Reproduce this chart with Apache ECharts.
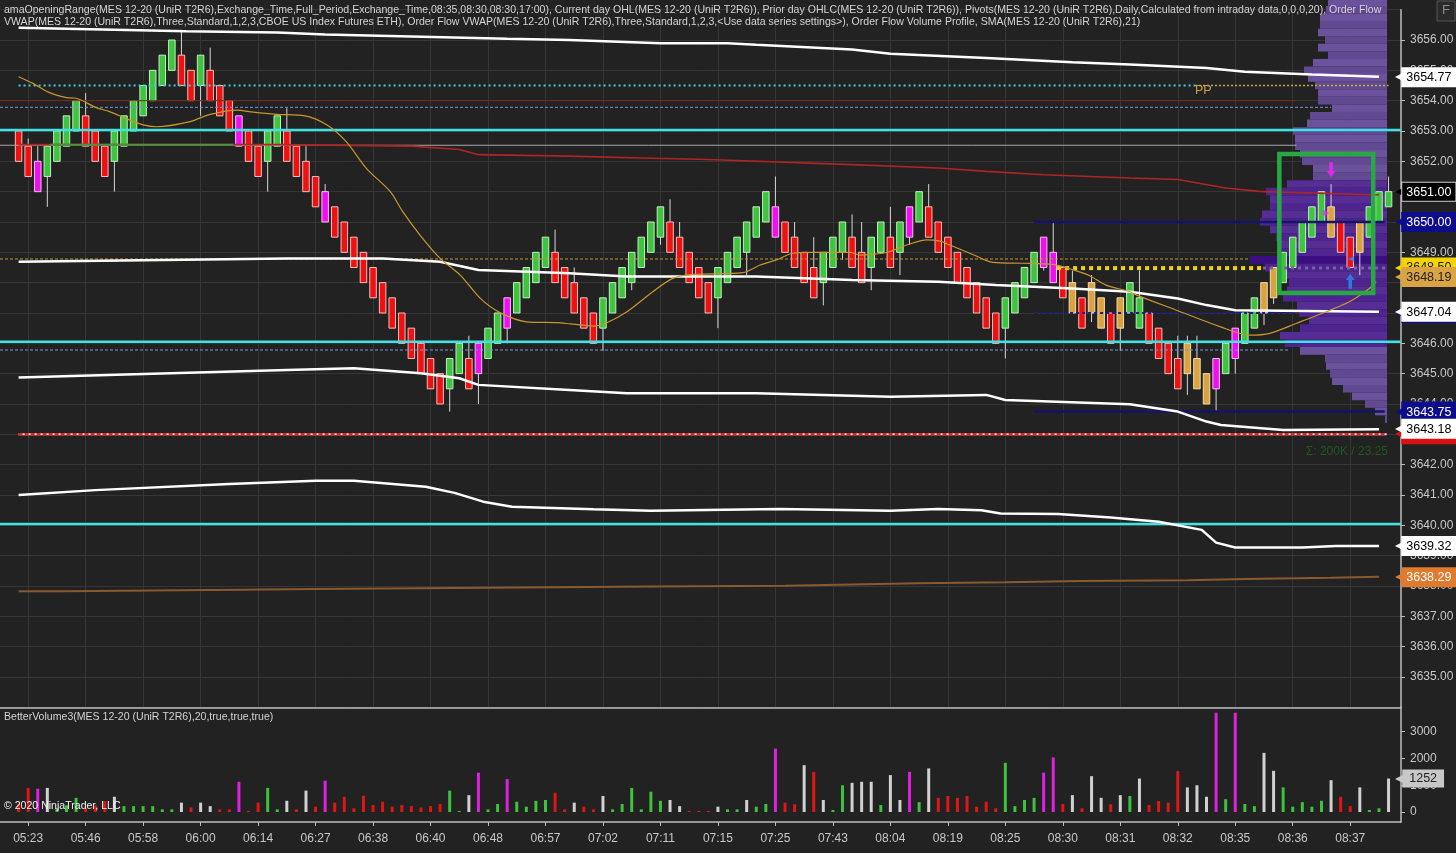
<!DOCTYPE html>
<html><head><meta charset="utf-8">
<script src="https://cdn.jsdelivr.net/npm/echarts@6/dist/echarts.min.js"></script>
<style>html,body{margin:0;padding:0;background:#222222;}#c{width:1456px;height:853px;}</style>
</head><body><div id="c"></div>
<script>
// ---------------- DATA ----------------
const timeLabels = ['05:23','05:46','05:58','06:00','06:14','06:27','06:38','06:40','06:48','06:57','07:02','07:11','07:15','07:25','07:43','08:04','08:19','08:25','08:30','08:31','08:32','08:35','08:36','08:37'];
const timeIdx = [1,7,13,19,25,31,37,43,49,55,61,67,73,79,85,91,97,103,109,115,121,127,133,139];

const opens = [3653,3652.5,3652,3651.5,3652,3652.5,3653,3653.5,3653,3652.5,
3652,3652.5,3653,3653.5,3654,3654.5,3655,3655.5,3655,3654.5,
3655,3654.5,3654,3653.5,3653,3652.5,3652,3652.5,3653,3652.5,
3652,3651.5,3651,3650.5,3650,3649.5,3649,3648.5,3648,3647.5,
3647,3646.5,3646,3645.5,3645,3644.5,3645,3645.5,3645,3645.5,
3646,3646.5,3647,3647.5,3648,3648.5,3649,3648.5,3648,3647.5,
3647,3646.5,3647,3647.5,3648,3648.5,3649,3649.5,3650,3649.5,
3649,3648.5,3648,3647.5,3648,3648.5,3649,3649.5,3650,3650.5,
3650,3649.5,3649,3648.5,3648,3648.5,3649,3649.5,3649,3648.5,
3649,3649.5,3649,3649.5,3650,3650.5,3650,3649.5,3649,3648.5,
3648,3647.5,3647,3646.5,3647,3647.5,3648,3648.5,3649,3648.5,
3648,3647.5,3647,3647.5,3647,3646.5,3647,3646.5,3647,3646.5,
3646,3645.5,3645,3645.5,3645,3644.5,3645,3645.5,3646,3646.5,
3647,3647.5,3648,3648.5,3649,3649.5,3650,3650.5,3650,3649.5,
3649,3649.5,3650,3650.5];
const closes = [3652,3651.5,3651,3652.5,3653,3653.5,3654,3652.5,3652,3651.5,
3653,3653.5,3654,3654.5,3655,3655.5,3656,3654.5,3654,3655.5,
3654,3653.5,3653,3652.5,3652,3651.5,3653,3653.5,3652,3651.5,
3651,3650.5,3650,3649.5,3649,3648.5,3648,3647.5,3647,3646.5,
3646,3645.5,3645,3644.5,3644,3645.5,3646,3644.5,3646,3646.5,
3647,3647.5,3648,3648.5,3649,3649.5,3648,3647.5,3647,3646.5,
3646,3647.5,3648,3648.5,3649,3649.5,3650,3650.5,3649,3648.5,
3648,3647.5,3647,3648.5,3649,3649.5,3650,3650.5,3651,3649.5,
3649,3648.5,3648,3647.5,3649,3649.5,3650,3648.5,3648,3649.5,
3650,3648.5,3650,3650.5,3651,3649.5,3649,3648.5,3648,3647.5,
3647,3646.5,3646,3647.5,3648,3648.5,3649,3649.5,3648,3647.5,
3647,3646.5,3648,3646.5,3646,3647.5,3648,3647.5,3646,3645.5,
3645,3644.5,3646,3644.5,3644,3645.5,3646,3646.5,3647,3647.5,
3648,3648.5,3649,3649.5,3650,3650.5,3651,3649.5,3649,3648.5,
3650,3650.5,3651,3651];
const lows = [3652,3651.5,3651,3650.5,3652,3652.5,3653,3652.5,3652,3651.5,
3651,3652.5,3653,3653.5,3654,3654.5,3655,3654.5,3654,3653.5,
3654,3653.5,3653,3652.5,3652,3651.5,3651,3652.5,3652,3651.5,
3651,3650.5,3650,3649.5,3649,3648.5,3648,3647.5,3647,3646.5,
3646,3645.5,3645,3644.5,3644,3643.75,3645,3644.5,3644,3645.5,
3646,3646,3647,3647.5,3648,3648.5,3648,3647.5,3647,3646.5,
3646,3645.75,3647,3647.5,3647.75,3648.5,3649,3649.25,3649,3648.5,
3648,3647.5,3647,3646.5,3648,3648.5,3648.25,3649.5,3650,3649.5,
3649,3648.5,3648,3647.5,3647.25,3648.5,3648.75,3648.5,3648,3647.75,
3649,3648.5,3648.25,3649.25,3650,3649.5,3649,3648.5,3648,3647.5,
3647,3646.5,3646,3645.5,3647,3647.5,3648,3648.4,3648,3647.5,
3647,3646.5,3646.7,3646.5,3646,3645.75,3647,3646.5,3646,3645.5,
3645,3644.5,3644.3,3644.5,3644,3643.75,3645,3645,3646,3646.5,
3646.6,3647.3,3648,3648.5,3649,3649.5,3650,3649.5,3649,3648.5,
3648.25,3649.5,3650,3650.5];
const highs = [3653,3652.75,3652.5,3652.5,3653,3653.5,3654,3654.25,3653,3652.5,
3653,3653.5,3654,3654.5,3655,3655.5,3656,3656.3,3655,3655.5,
3655.75,3654.5,3654,3653.5,3653,3652.5,3653,3653.5,3653.75,3652.5,
3652.5,3651.5,3651.25,3650.5,3650,3649.5,3649,3648.5,3648,3647.5,
3647,3646.5,3646,3645.5,3645,3645.5,3646,3646.25,3646,3646.5,
3647,3647.5,3648,3648.5,3649,3649.5,3649.75,3648.5,3648.5,3647.5,
3647,3647.5,3648,3648.5,3649,3649.5,3650,3650.5,3650.75,3650,
3649,3648.5,3648,3648.5,3649,3649.5,3650,3650.5,3651,3651.5,
3650,3650,3649,3649.5,3649,3649.5,3650,3650.25,3650,3649.5,
3650,3650.5,3650,3650.5,3651,3651.25,3650,3649.5,3649,3648.5,
3648,3647.5,3647,3647.5,3648,3648.5,3649,3649.5,3650,3648.5,
3648.4,3647.5,3648.25,3647.5,3647,3647.5,3648,3648.4,3647,3646.5,
3646,3646.25,3646.25,3646.25,3645,3645.5,3646,3646.5,3647,3647.5,
3648,3648.5,3649,3649.5,3650,3650.5,3651,3651.25,3650,3649.5,
3650,3650.5,3651,3651.5];
// g=up, r=down, m=high-volume climax, o=delta divergence
const candleClass = 'rrmggggrrr'+'gggggggrrg'+'rrrmrrggrr'+'rrmrrrrrrr'+'rrrrrggrmg'+'gmggggrrrr'+'rgggggggrr'+'rrrggggggm'+'rrrrgggrrg'+'grgmgrrrrr'+'rrrggggmmr'+'orooroggrr'+'rrooomgmgg'+'oogggggorr'+'oggg';

const volumes = [300,900,870,900,150,250,530,150,250,410,
570,220,220,220,220,100,100,350,170,350,
220,100,100,1130,40,350,900,100,420,100,
800,200,1170,350,570,140,610,260,385,200,
260,220,170,220,300,800,40,630,1470,100,
300,1230,385,200,420,450,720,100,350,200,
100,600,100,300,900,100,760,420,450,220,
40,40,40,200,100,100,450,200,300,2370,
350,290,1750,1500,450,75,1000,1090,1130,1130,
260,1380,450,1500,370,1630,530,600,530,600,
200,385,140,1840,220,450,530,1470,2040,300,
630,140,1340,530,290,630,600,1250,260,410,
350,1530,920,1000,570,3710,480,3710,300,220,
2210,1540,920,200,370,200,420,1190,570,220,
920,75,140,1252];
const volClass = 'rrmwgggrrr'+'wggggggwrw'+'wrrmrrggwr'+'wrmrrrrrrr'+'rrrrrggwmg'+'gmggggrrwr'+'rwggggggww'+'rrrwggwggm'+'rrwrwggwww'+'gwwmgwrrrr'+'rrrggggmmr'+'wrwwrwgwrr'+'rrwwwmgmgg'+'wwgggggwrr'+'wggw';

// indicator lines: [barIndex, price]
const vwapUpper3 = [[0,3656.40],[17.5,3656.29],[27,3656.25],[32,3656.18],[51,3656.04],[57.5,3656.0],[67,3655.89],[74,3655.89],[77,3655.84],[87,3655.69],[91,3655.55],[101,3655.41],[110,3655.27],[116,3655.19],[124,3655.08],[128,3654.95],[135,3654.86],[142,3654.79]];
const vwapMid = [[0,3648.69],[28,3648.80],[38,3648.80],[44,3648.69],[48,3648.42],[57.5,3648.31],[63.5,3648.20],[77,3648.20],[87,3648.09],[96,3648.03],[102,3647.92],[110,3647.81],[116,3647.70],[121,3647.48],[124,3647.26],[127,3647.09],[142,3647.04]];
const vwapLower1 = [[0,3644.87],[28,3645.12],[35,3645.18],[42,3645.01],[46,3644.85],[48,3644.63],[57.5,3644.46],[63.5,3644.35],[77,3644.35],[87,3644.27],[91,3644.24],[101,3644.30],[103,3644.13],[116,3643.99],[121,3643.75],[124,3643.42],[125.5,3643.31],[132,3643.14],[142,3643.17]];
const vwapLower2 = [[0,3641.00],[8,3641.16],[22,3641.36],[31,3641.47],[35,3641.47],[42.5,3641.27],[45.5,3641.07],[48.5,3640.78],[51.5,3640.61],[60,3640.53],[66,3640.48],[79.5,3640.54],[91,3640.48],[96,3640.54],[100.5,3640.50],[102.5,3640.39],[108.5,3640.37],[114,3640.26],[119,3640.12],[123.5,3639.85],[125,3639.43],[127,3639.27],[134,3639.27],[137.5,3639.32],[142,3639.32]];
const ofVwap = [[0,3652.55],[27,3652.55],[41,3652.50],[46,3652.39],[48,3652.22],[57.5,3652.17],[65,3652.11],[72,3652.06],[87,3651.89],[96,3651.78],[101,3651.67],[107,3651.56],[116,3651.45],[121,3651.40],[126,3651.12],[129.5,3651.01],[141,3650.90],[142,3650.90]];
const ofVwapRising = [[3.3,3652.55],[22.4,3652.55]];
const ofVwapLower = [[0,3637.83],[4.5,3637.83],[5,3637.87],[20,3637.87],[20.5,3637.90],[31,3637.94],[49,3637.98],[66,3638.01],[80,3638.05],[87,3638.09],[94,3638.12],[103,3638.16],[111,3638.19],[122,3638.23],[128,3638.27],[137,3638.30],[142,3638.29]];
const sma21 = [[0,3654.79],[1.5,3654.57],[3.1,3654.28],[5,3654.10],[6,3654.08],[8.1,3653.77],[9.5,3653.64],[11.3,3653.40],[13,3653.20],[14.4,3653.14],[17.9,3653.31],[20,3653.55],[22.8,3653.69],[24.5,3653.62],[26.9,3653.55],[29.9,3653.50],[32.2,3653.20],[34.2,3652.65],[36.3,3651.77],[38.8,3651.00],[40.1,3650.34],[41.9,3649.57],[44,3648.80],[46.1,3648.25],[48.2,3647.48],[50.2,3647.02],[53,3646.71],[56.2,3646.68],[57.6,3646.64],[60,3646.57],[61.4,3646.68],[63.5,3647.04],[66.2,3647.70],[68.3,3648.14],[70.4,3648.27],[75.6,3648.33],[77.4,3648.58],[79.1,3648.75],[80.8,3648.97],[82.9,3649.00],[86.8,3649.00],[87.8,3648.91],[89.2,3648.93],[90.9,3649.02],[92.7,3649.24],[94.8,3649.41],[96.2,3649.37],[97.2,3649.24],[99.6,3648.93],[101.7,3648.67],[104.8,3648.64],[108,3648.60],[110.1,3648.42],[111.8,3648.23],[113.5,3647.92],[116,3647.70],[116.7,3647.59],[120.8,3647.10],[125.4,3646.55],[128.5,3646.27],[130.6,3646.33],[133.4,3646.66],[136.5,3647.04],[138.9,3647.37],[141,3647.81],[141.7,3648.03]];

// horizontal levels: price, from bar, to bar
const levelPrice = [3653.03,3646.05,3640.04,3654.50,3654.50,3654.00,3653.78,3645.78,3652.53,3648.78,3648.48,3648.48,3650.00,3643.75,3647.00,3643.00];
const levelFrom  = [-1.94,-1.94,-1.94,0,122.8,-1.94,-1.94,-1.94,-1.94,-1.94,108.4,129.9,106,106,106,0];
const levelTo    = [144.3,144.3,144.3,122.8,143,133.4,137,132.7,133.4,128.5,129.9,142.8,142.6,142.6,133.4,142.8];

// volume profile rows
const profilePrice = [3657.25,3657.00,3656.75,3656.50,3656.25,3656.00,3655.75,3655.50,3655.25,3655.00,
3654.75,3654.50,3654.25,3654.00,3653.75,3653.50,3653.25,3653.00,3652.75,3652.50,
3652.25,3652.00,3651.75,3651.50,3651.25,3651.00,3650.75,3650.50,3650.25,3650.00,
3649.75,3649.50,3649.25,3649.00,3648.75,3648.50,3648.25,3648.00,3647.75,3647.50,
3647.25,3647.00,3646.75,3646.50,3646.25,3646.00,3645.75,3645.50,3645.25,3645.00,
3644.75,3644.50,3644.25,3644.00,3643.75,3643.50];
const profileVol = [2360,2440,2680,2680,2760,2480,2760,2360,2960,3320,
3160,2880,2760,2760,2200,3080,3200,3760,3680,3680,
3480,3400,2960,2960,4000,4840,4680,4680,5000,5080,
4680,4440,4280,4200,5480,4880,4160,3920,4000,4160,
3600,3520,3120,3480,4280,4080,3480,2480,2440,2280,
2200,1760,1400,880,480,80];

// annotation box [bar, price, bar, price] and signal arrows [bar, price]
const annotationBox = [[131.6,3652.24,141.4,3647.66]];
const sellArrow = [[137,3651.72]];
const buyArrow = [[139,3648.05]];
const sellTick = [[136.5,3650.30]];
const buyTick = [[139.1,3648.78]];

const flagValues = [3654.50,3654.77,3651.00,3650.00,3648.50,3648.19,3647.00,3647.04,3643.75,3643.00,3643.18,3639.32,3638.29];
const volFlag = [1252];
const volTicks = [0,1000,2000,3000];

// ---------------- STYLE ----------------
const FONT = '"Liberation Sans Narrow","Liberation Sans",Arial,sans-serif';
const TXT = '#c8c8c8';
const X_MIN = -1.94, X_MAX = 144.3;
const levelStyle = [
 ['#3fe3e6',2.5,'solid'],['#3fe3e6',2.5,'solid'],['#3fe3e6',2.5,'solid'],
 ['#3fd0d4',2,[2,3]],['#c8b040',1.5,[2,2]],
 ['#7a2a1a',1,'solid'],['#7a96d8',1,[3,2]],['#7a96d8',1,[3,2]],
 ['#a8a8a8',1,'solid'],['#c8962d',1,[3,2]],
 ['#f0d21c',4,[4,4]],['#7e62a0',3,[3,4]],
 ['#14146e',2.5,'solid'],['#14146e',2.5,'solid'],['#1a1a8a',2,[3,3]],
 ['#e82020',2.5,[4,2]]
];
const flagStyle = [
 ['#d9a441','#222'],['#ffffff','#000'],['#000000','#fff'],['#0c0c8c','#fff'],
 ['#f5d400','#222'],['#d9a441','#222'],['#0c0c8c','#fff'],['#ffffff','#000'],
 ['#0c0c8c','#fff'],['#dd1111','#fff'],['#ffffff','#000'],['#ffffff','#000'],['#e07b2e','#fff']
];
const candleFill = {g:'#3ec43e', r:'#ee1111', m:'#ee11ee', o:'#dba33f'};
const candleEdge = {g:'#bff0bf', r:'#f7bcbc', m:'#f7bcf7', o:'#f3dcae'};
const volColor = {g:'#3cc23c', r:'#e01515', m:'#e020e0', w:'#d0d0d0'};

const flagRich = {};
flagStyle.forEach((s,k)=>{
  flagRich['t'+k] = {color:s[0], fontSize:12, fontFamily:'DejaVu Sans', padding:[0,-2,0,0]};
  flagRich['b'+k] = {backgroundColor:s[0], color:s[1], fontSize:12.5, fontFamily:FONT, padding:[3,4,2,4], borderColor: k===2?'#d0d0d0':s[0], borderWidth:1};
});

const chart = echarts.init(document.getElementById('c'), null, {renderer:'canvas'});

const series = [];
// volume profile
const pocIdx = profileVol.indexOf(Math.max(...profileVol));
series.push({
  type:'custom', xAxisIndex:2, yAxisIndex:0, z:1, silent:true,
  data: profileVol.map((v,i)=>[v, profilePrice[i]]),
  encode:{x:0,y:1},
  renderItem:(params, api)=>{
    const v = api.value(0), p = api.value(1);
    const a = api.coord([0, p + 0.125]);
    const b = api.coord([v, p - 0.125]);
    const i = params.dataIndex;
    let col;
    if (i === pocIdx) col = '#3a0e80';
    else if (p >= 3646 && p <= 3651.25) col = (i % 2) ? '#4d2490' : '#562d95';
    else col = (i % 2) ? '#624a92' : '#6b529c';
    return {type:'rect', shape:{x:Math.min(a[0],b[0]), y:a[1], width:Math.abs(a[0]-b[0]), height:b[1]-a[1]}, style:{fill:col}};
  }
});
// candles
series.push({
  type:'custom', xAxisIndex:0, yAxisIndex:0, z:4, silent:true,
  data: opens.map((o,i)=>[i, o, closes[i], lows[i], highs[i]]),
  encode:{x:0, y:[1,2,3,4]},
  renderItem:(params, api)=>{
    const x = api.value(0);
    const pO = api.coord([x, api.value(1)]);
    const pC = api.coord([x, api.value(2)]);
    const pL = api.coord([x, api.value(3)]);
    const pH = api.coord([x, api.value(4)]);
    const w = api.size([1,0])[0]*0.68;
    const cls = candleClass[params.dataIndex];
    return {type:'group', children:[
      {type:'line', shape:{x1:pH[0], y1:pH[1], x2:pL[0], y2:pL[1]}, style:{stroke:'#d6d6d6', lineWidth:1}},
      {type:'rect', shape:{x:pO[0]-w/2, y:Math.min(pO[1],pC[1]), width:w, height:Math.abs(pO[1]-pC[1])},
       style:{fill:candleFill[cls], stroke:candleEdge[cls], lineWidth:1}}
    ]};
  }
});
// horizontal levels
levelPrice.forEach((p,k)=>{
  const st = levelStyle[k];
  series.push({type:'line', xAxisIndex:0, yAxisIndex:0, z:5, silent:true, symbol:'none',
    data:[[levelFrom[k], p],[levelTo[k], p]],
    lineStyle:{color:st[0], width:st[1], type:st[2]}});
});
// light base under red dashed level
series.push({type:'line', xAxisIndex:0, yAxisIndex:0, z:4.9, silent:true, symbol:'none',
  data:[[levelFrom[15], levelPrice[15]],[levelTo[15], levelPrice[15]]], lineStyle:{color:'#f4e4e4', width:2}});
// indicator lines
const lineDefs = [
  [vwapUpper3,'#ffffff',2.5,false],
  [vwapMid,'#ffffff',2.5,false],
  [vwapLower1,'#ffffff',2.5,false],
  [vwapLower2,'#ffffff',2.5,false],
  [ofVwap,'#b02424',1.6,false],
  [ofVwapRising,'#3a9a3a',1.6,false],
  [ofVwapLower,'#8a5a2e',2,'end'],
];
lineDefs.forEach(d=>{
  series.push({type:'line', xAxisIndex:0, yAxisIndex:0, z:6, silent:true, symbol:'none', step:d[3],
    data:d[0], lineStyle:{color:d[1], width:d[2]}});
});
series.push({type:'line', xAxisIndex:0, yAxisIndex:0, z:6, silent:true, symbol:'none', smooth:0.3,
  data:sma21, lineStyle:{color:'#c8962d', width:1.2}});
// annotation box
series.push({type:'custom', xAxisIndex:0, yAxisIndex:0, z:9, silent:true,
  data: annotationBox, encode:{x:[0,2], y:[1,3]},
  renderItem:(params, api)=>{
    const a = api.coord([api.value(0), api.value(1)]);
    const b = api.coord([api.value(2), api.value(3)]);
    return {type:'rect', shape:{x:a[0], y:a[1], width:b[0]-a[0], height:b[1]-a[1]},
      style:{fill:'none', stroke:'#27a844', lineWidth:4.5}};
  }});
// signal arrows
const arrowPath = 'path://M3,0 L7,0 L7,8 L10,8 L5,14 L0,8 L3,8 Z';
series.push({type:'scatter', xAxisIndex:0, yAxisIndex:0, z:10, silent:true, symbol:arrowPath, symbolSize:[9,15], data:sellArrow, itemStyle:{color:'#ff20ff'}});
series.push({type:'scatter', xAxisIndex:0, yAxisIndex:0, z:10, silent:true, symbol:arrowPath, symbolSize:[9,15], symbolRotate:180, data:buyArrow, itemStyle:{color:'#2a8cf0'}});
series.push({type:'scatter', xAxisIndex:0, yAxisIndex:0, z:10, silent:true, symbol:'triangle', symbolSize:[6,6], symbolRotate:-90, data:sellTick, itemStyle:{color:'#ff20ff'}});
series.push({type:'scatter', xAxisIndex:0, yAxisIndex:0, z:10, silent:true, symbol:'triangle', symbolSize:[6,6], symbolRotate:90, data:buyTick, itemStyle:{color:'#2a8cf0'}});
// volume bars
series.push({type:'bar', xAxisIndex:1, yAxisIndex:2, z:3, silent:true, barWidth:3,
  data: volumes.map((v,i)=>({value:[i,v], itemStyle:{color:volColor[volClass[i]]}}))});

const axisTxt = {color:TXT, fontSize:12, fontFamily:FONT};
const line = {show:true, onZero:false, lineStyle:{color:'#bdbdbd', width:1.5}};

const titleText = (txt, x, y, fill) => ({type:'text', x:x, y:y, scaleX:0.918, z:100, silent:true,
  style:{text:txt, fill:fill, fontSize:11.5, fontFamily:FONT, verticalAlign:'top'}});

const option = {
  backgroundColor:'#222222',
  animation:false,
  grid:[
    {left:0, right:55, top:9.67, height:697.63, outerBoundsMode:'none'},
    {left:0, right:55, top:707.3, height:114.7, outerBoundsMode:'none'}
  ],
  xAxis:[
    {type:'value', gridIndex:0, min:X_MIN, max:X_MAX,
     axisLine:line, axisLabel:{show:false},
     axisTick:{show:false, customValues:timeIdx},
     splitLine:{show:true, lineStyle:{color:'#363636', width:1}}},
    {type:'value', gridIndex:1, min:X_MIN, max:X_MAX,
     axisLine:line,
     axisTick:{show:true, length:4, customValues:timeIdx, lineStyle:{color:'#bdbdbd'}},
     axisLabel:{...axisTxt, margin:11, customValues:timeIdx, formatter:(v)=>timeLabels[Math.round((v-1)/6)]||''},
     splitLine:{show:false}},
    {type:'value', gridIndex:0, min:-560, max:55480, inverse:true, show:false, splitLine:{show:false}}
  ],
  yAxis:[
    {type:'value', gridIndex:0, position:'right', min:3634, max:3657, interval:1,
     axisLine:line,
     axisTick:{show:true, length:4, lineStyle:{color:'#bdbdbd'}},
     axisLabel:{...axisTxt, margin:9, showMinLabel:false, showMaxLabel:false, formatter:(v)=>v.toFixed(2)},
     splitLine:{show:true, lineStyle:{color:'#363636', width:1}}},
    {type:'value', gridIndex:0, position:'right', min:3634, max:3657, z:10,
     axisLine:{show:false, onZero:false}, axisTick:{show:false}, splitLine:{show:false},
     axisLabel:{margin:-6, customValues:flagValues, rich:flagRich,
       formatter:(v)=>{let k=0,d=1e9; flagValues.forEach((f,j)=>{if(Math.abs(f-v)<d){d=Math.abs(f-v);k=j;}}); return '{t'+k+'|◀}{b'+k+'|'+flagValues[k].toFixed(2)+'}';}}},
    {type:'value', gridIndex:1, position:'right', min:-372.7, max:3913,
     axisLine:line,
     axisTick:{show:true, length:4, customValues:volTicks, lineStyle:{color:'#bdbdbd'}},
     axisLabel:{...axisTxt, margin:9, customValues:volTicks, formatter:(v)=>String(Math.round(v))},
     splitLine:{show:false}},
    {type:'value', gridIndex:1, position:'right', min:-372.7, max:3913, z:10,
     axisLine:{show:false, onZero:false}, axisTick:{show:false}, splitLine:{show:false},
     axisLabel:{margin:-6, customValues:volFlag,
       rich:{t:{color:'#c8c8c8', fontSize:12, fontFamily:'DejaVu Sans', padding:[0,-2,0,0]}, b:{backgroundColor:'#c8c8c8', color:'#222', fontSize:12.5, fontFamily:FONT, padding:[3,7,2,7]}},
       formatter:(v)=>'{t|◀}{b|'+Math.round(v)+'}'}}
  ],
  graphic:[
    titleText('amaOpeningRange(MES 12-20 (UniR T2R6),Exchange_Time,Full_Period,Exchange_Time,08:35,08:30,08:30,17:00), Current day OHL(MES 12-20 (UniR T2R6)), Prior day OHLC(MES 12-20 (UniR T2R6)), Pivots(MES 12-20 (UniR T2R6),Daily,Calculated from intraday data,0,0,0,20), Order Flow', 4, 4, '#d4d4d4'),
    titleText('VWAP(MES 12-20 (UniR T2R6),Three,Standard,1,2,3,CBOE US Index Futures ETH), Order Flow VWAP(MES 12-20 (UniR T2R6),Three,Standard,1,2,3,<Use data series settings>), Order Flow Volume Profile, SMA(MES 12-20 (UniR T2R6),21)', 4, 16, '#d4d4d4'),
    titleText('BetterVolume3(MES 12-20 (UniR T2R6),20,true,true,true)', 4, 711, '#d4d4d4'),
    titleText('© 2020 NinjaTrader, LLC', 4, 800, '#f0f0f0'),
    {type:'text', x:1195, y:84, z:100, silent:true, style:{text:'PP', fill:'#c9a046', fontSize:12.5, fontFamily:FONT, verticalAlign:'top'}},
    {type:'text', x:1388, y:446, z:100, silent:true, style:{text:'Σ: 200K / 23.25', fill:'#1e5a1e', fontSize:12, fontFamily:FONT, align:'right', verticalAlign:'top'}},
    {type:'rect', x:1437, y:1, z:100, silent:true, shape:{width:18, height:20}, style:{fill:'#2a2a2a', stroke:'#555', lineWidth:1}},
    {type:'text', x:1442, y:4, z:101, silent:true, style:{text:'F', fill:'#8a8a8a', fontSize:13, fontFamily:FONT, verticalAlign:'top'}}
  ],
  series: series
};
chart.setOption(option);
</script>
</body></html>
